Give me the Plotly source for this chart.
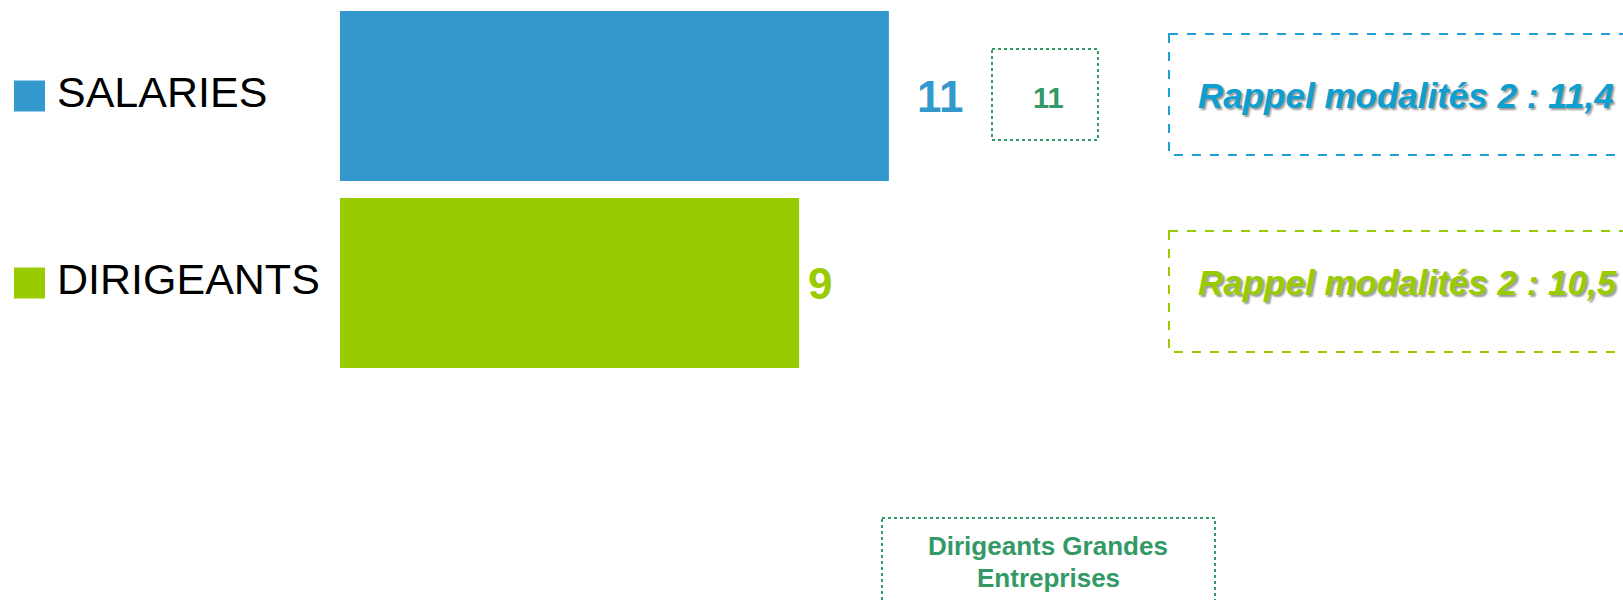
import plotly.graph_objects as go

# data
categories = ["SALARIES", "DIRIGEANTS"]
values = [11.0, 9.2]
value_labels = ["11", "9"]
bar_colors = ["#3399CC", "#99CC00"]
recall_labels = ["Rappel modalités 2 : 11,4", "Rappel modalités 2 : 10,5"]
recall_colors = ["#0D9FD0", "#99CC00"]
ge_value = "11"
ge_label = ["Dirigeants Grandes", "Entreprises"]

W, H = 1623, 600
GREEN = "#339966"
FONT = "Arial, Liberation Sans, sans-serif"


def px(x):
    return x / W


def py(y):
    return 1 - y / H


fig = go.Figure()

fig.add_trace(go.Bar(
    y=categories, x=values, orientation="h",
    marker=dict(color=bar_colors, line=dict(width=0)),
    hoverinfo="skip", showlegend=False,
))

# legend squares on a hidden pixel-scaled axis
fig.add_trace(go.Scatter(
    x=[29.5, 29.5], y=categories, xaxis="x2", yaxis="y", mode="markers",
    marker=dict(symbol="square", size=31, color=bar_colors, line=dict(width=0)),
    hoverinfo="skip", showlegend=False,
))

fig.update_layout(
    width=W, height=H,
    margin=dict(l=0, r=0, t=0, b=0),
    plot_bgcolor="rgba(0,0,0,0)", paper_bgcolor="white",
    bargap=0.09,
    xaxis=dict(domain=[340 / W, 1], range=[0, (W - 340) / 49.9], visible=False, fixedrange=True),
    xaxis2=dict(domain=[0, 1], range=[0, W], anchor="y", visible=False, fixedrange=True),
    yaxis=dict(range=[(H - 96) / 187, -96 / 187], visible=False, fixedrange=True),
    font=dict(family=FONT),
)

ann = []
# category names
for cat in categories:
    ann.append(dict(x=px(55), xref="paper", y=cat, yref="y", xanchor="left", yanchor="middle",
                    text=cat, showarrow=False, font=dict(size=43, color="black"), yshift=4))

# value labels
shifts = [26, 7]
for cat, v, lab, col, s in zip(categories, values, value_labels, bar_colors, shifts):
    ann.append(dict(x=v, xref="x", y=cat, yref="y", xanchor="left", yanchor="middle",
                    text=f"<b>{lab}</b>", showarrow=False, xshift=s,
                    font=dict(size=44, color=col)))

# small GE value box
ann.append(dict(x=px(1048), xref="paper", y=categories[0], yref="y", xanchor="center",
                yanchor="middle", text=f"<b>{ge_value}</b>", showarrow=False, yshift=-2,
                font=dict(size=29, color=GREEN)))

# recall texts
for cat, lab, col in zip(categories, recall_labels, recall_colors):
    ann.append(dict(x=px(1196), xref="paper", y=cat, yref="y", xanchor="left", yanchor="middle",
                    text=f"<b><i>{lab}</i></b>", showarrow=False, yshift=1,
                    font=dict(size=35, color=col, shadow="2px 2px 2px #9a9a9a")))

# bottom label
for yy, line in zip([546, 578], ge_label):
    ann.append(dict(x=px(1048), xref="paper", y=py(yy), yref="paper",
                    xanchor="center", yanchor="middle", text=f"<b>{line}</b>",
                    showarrow=False, font=dict(size=26, color=GREEN)))

fig.update_layout(annotations=ann)

shapes = [
    dict(type="rect", xref="paper", yref="paper", x0=px(992), x1=px(1098), y0=py(49), y1=py(140),
         line=dict(color=GREEN, width=2, dash="dot")),
    dict(type="rect", xref="paper", yref="paper", x0=px(1169), x1=1.02, y0=py(34), y1=py(155),
         line=dict(color="#1BA1D8", width=2, dash="dash")),
    dict(type="rect", xref="paper", yref="paper", x0=px(1169), x1=1.02, y0=py(231), y1=py(352),
         line=dict(color="#99CC00", width=2, dash="dash")),
    dict(type="rect", xref="paper", yref="paper", x0=px(882), x1=px(1215), y0=py(518), y1=py(640),
         line=dict(color=GREEN, width=2, dash="dot")),
]
fig.update_layout(shapes=shapes)

fig.write_html("out.html", config={"displayModeBar": False},
               post_script="document.body.style.margin='0';")
